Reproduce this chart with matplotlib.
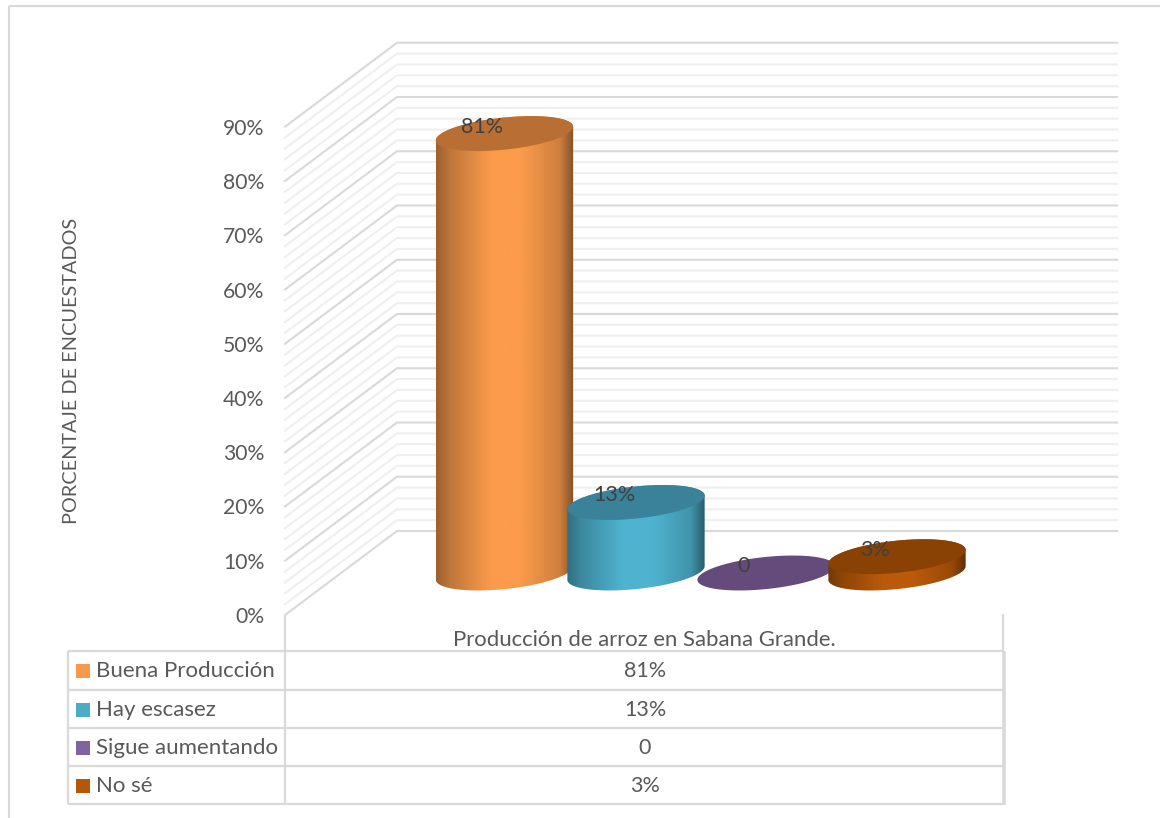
import numpy as np
import matplotlib
matplotlib.use("Agg")
import matplotlib.pyplot as plt
from matplotlib.colors import LinearSegmentedColormap, to_rgb
from matplotlib.patches import Polygon, Rectangle
from matplotlib.transforms import Affine2D

categories = ["Buena Producción", "Hay escasez", "Sigue aumentando", "No sé"]
values = [81, 13, 0, 3]
value_labels = ["81%", "13%", "0", "3%"]
body_colors = ["#FB9B4B", "#4FB3CF", "#8064A2", "#BA5A0A"]
top_colors = ["#B96F33", "#3A8299", "#644B7B", "#8A4204"]
legend_colors = ["#F99A4A", "#4BACC6", "#8064A2", "#B65708"]
centers = [504.5, 636, 766, 897]
y_ticks = list(range(0, 100, 10))
x_title = "Producción de arroz en Sabana Grande."
y_title = "PORCENTAJE DE ENCUESTADOS"

W, H = 1160, 818
Y0 = 615        # pixel row of 0%
PX = 5.425      # pixels per percent
BASE = (Y0 - 573) / PX   # bar base sits above the front edge
A, B, TILT = 69, 16, np.radians(6)
FONT = "Lato"
GRID_MAJOR = "#D9D9D9"
GRID_MINOR = "#EFEFEF"
TEXT = "#595959"
LABEL = "#404040"

plt.rcParams["font.family"] = FONT
fig = plt.figure(figsize=(W / 100, H / 100), dpi=100)
ax = fig.add_axes([0, 0, 1, 1])
ax.set_xlim(0, W)
ax.set_ylim(-(H - Y0) / PX, Y0 / PX)
ax.patch.set_alpha(0)
for s in ["top", "right", "bottom"]:
    ax.spines[s].set_visible(False)
ax.spines["left"].set_position(("data", 285))
ax.spines["left"].set_visible(False)
ax.xaxis.set_visible(False)
ax.set_yticks(y_ticks)
ax.set_yticklabels([f"{v}%" for v in y_ticks], fontsize=15.2, color=TEXT)
ax.tick_params(axis="y", length=0, pad=15)

# layout stuff in pixels, y going down
px = Affine2D().scale(1, -1).translate(0, H)


def pline(xs, ys, color=GRID_MAJOR, lw=1.4, z=1):
    ax.plot(xs, ys, color=color, lw=lw, transform=px, clip_on=False, zorder=z,
            solid_capstyle="butt")


# walls
DX, DY = 112, 84 / PX
for v in np.arange(0, 92, 2):
    major = v % 10 == 0
    ax.plot([285, 285 + DX, 1117], [v, v + DY, v + DY],
            color=GRID_MAJOR if major else GRID_MINOR, lw=1.5,
            zorder=2 if major else 1, solid_joinstyle="miter")


def ellipse(cx, v, t):
    # tilted ellipse, x in pixels and y in percent
    dx = A * np.cos(t) * np.cos(TILT) - B * np.sin(t) * np.sin(TILT)
    dy = A * np.cos(t) * np.sin(TILT) + B * np.sin(t) * np.cos(TILT)
    return cx + dx, v + dy / PX


t0 = np.arctan2(-B * np.sin(TILT), A * np.cos(TILT))
for i, (cx, val) in enumerate(zip(centers, values)):
    z = 5 + i
    top = BASE + val
    if val > 0:
        # outline: lower arc of the base, upper arc of the top
        tb = np.linspace(t0 + np.pi, t0 + 2 * np.pi, 60)
        tt = np.linspace(t0, t0 + np.pi, 60)
        xb, yb = ellipse(cx, BASE, tb)
        xt, yt = ellipse(cx, top, tt)
        verts = np.column_stack([np.r_[xb, xt], np.r_[yb, yt]])
        clip = Polygon(verts, closed=True, transform=ax.transData, fc="none", ec="none")
        ax.add_patch(clip)
        base = np.array(to_rgb(body_colors[i]))
        cmap = LinearSegmentedColormap.from_list(
            f"body{i}", [(0, base * 0.62), (0.1, base * 0.76), (0.4, base), (0.62, base),
                         (0.9, base * 0.82), (1, base * 0.52)])
        im = ax.imshow(np.linspace(0, 1, 256)[None, :], cmap=cmap, aspect="auto",
                       extent=[cx - A, cx + A, BASE - 5, top + 5], zorder=z)
        im.set_clip_path(clip)
    tf = np.linspace(0, 2 * np.pi, 120)
    xf, yf = ellipse(cx, top, tf)
    ax.fill(xf, yf, color=top_colors[i], lw=0, zorder=z + 0.1)
    ax.text(cx - 22, top + 7 / PX, value_labels[i], fontsize=15.5, color=LABEL,
            ha="center", va="center", zorder=20)
ax.set_xlim(0, W)
ax.set_ylim(-(H - Y0) / PX, Y0 / PX)

# outer frame
pline([9, 9], [6, H], lw=1.5)
pline([9, W], [6, 6], lw=1.5)

# data table
rows = [651, 689.5, 728, 766, 804]
for y in rows:
    pline([68, 1003], [y, y], lw=1.6)
pline([68, 68], [651, 804], lw=1.6)
pline([285, 285], [615, 804], lw=1.6)
pline([1003, 1003], [614, 651], lw=1.6)
pline([1003.5, 1003.5], [651, 805], lw=2.6)

ax.text(644.5, 640, x_title, transform=px, fontsize=15.9, color=TEXT, ha="center", va="center")
for i, name in enumerate(categories):
    ym = (rows[i] + rows[i + 1]) / 2
    ax.add_patch(Rectangle((76, ym - 6), 14, 14, transform=px, fc=legend_colors[i], ec="none"))
    ax.text(96, ym + 1, name, transform=px, fontsize=16, color=TEXT, ha="left", va="center")
    ax.text(645, ym + 1, value_labels[i], transform=px, fontsize=15.5, color=TEXT, ha="center", va="center")

ax.text(72, 371, y_title, transform=px, fontsize=14.3, color=TEXT, rotation=90,
        ha="center", va="center")

fig.savefig("out.png", dpi=100)
